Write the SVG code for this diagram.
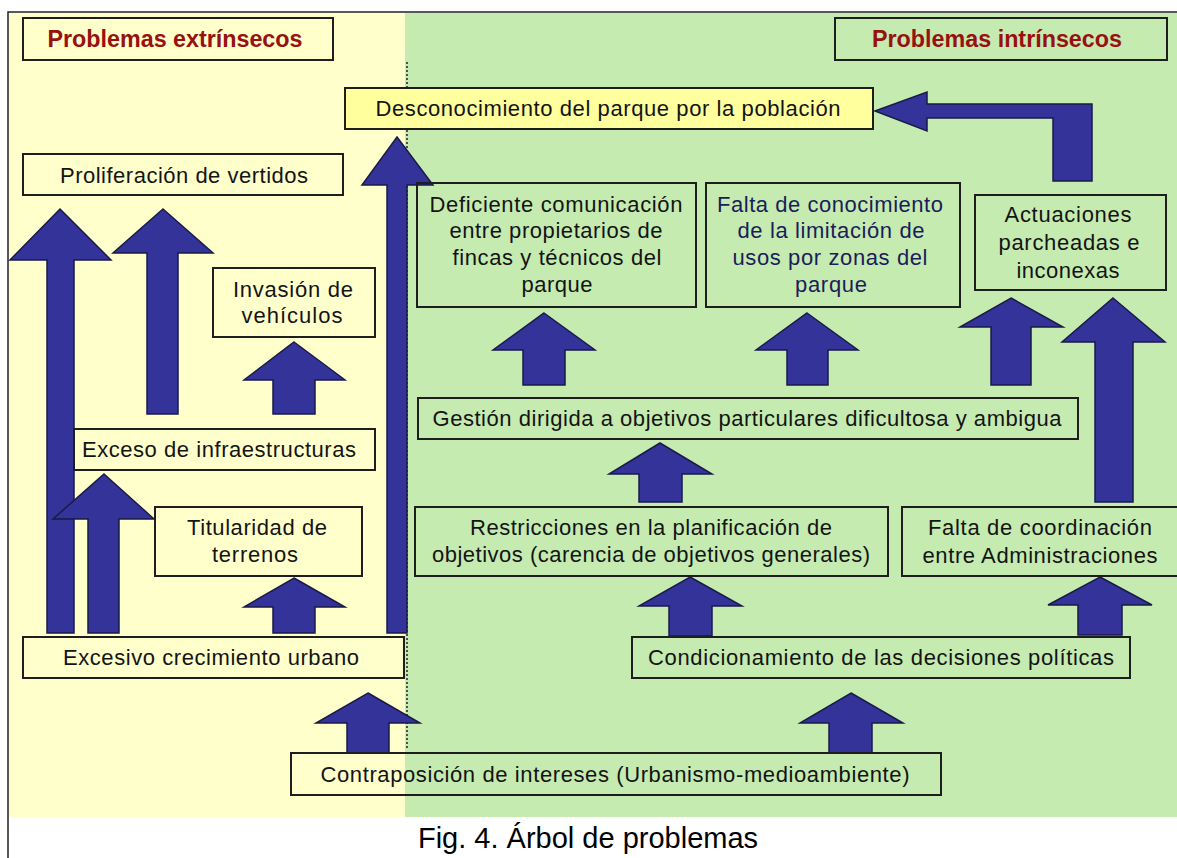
<svg xmlns="http://www.w3.org/2000/svg" width="1177" height="858" viewBox="0 0 1177 858">
<style>
.box{fill:none;stroke:#1e1e1e;stroke-width:2}
.t{font-family:"Liberation Sans",Arial,sans-serif;font-size:22px;fill:#141414;text-anchor:middle}
.tb{fill:#1c1c5a}
.h{font-family:"Liberation Sans",Arial,sans-serif;font-size:23px;font-weight:bold;fill:#981010;text-anchor:middle}
.arr{fill:#333399;stroke:#1a1a4a;stroke-width:1.5;stroke-linejoin:miter}
</style>
<rect x="0" y="0" width="1177" height="858" fill="#ffffff"/>
<rect x="9" y="13" width="397" height="804" fill="#FFFFCC"/>
<rect x="405" y="13" width="772" height="804" fill="#C5EBB1"/>
<path d="M8,858 V12 H1177" fill="none" stroke="#222" stroke-width="1.5"/>
<line x1="407" y1="62" x2="407" y2="748" stroke="#222" stroke-width="1.5" stroke-dasharray="2,2"/>

<g id="connectors">
<polygon class="arr" points="60,209 111,260 74,260 74,633 47,633 47,260 10,260"/>
<polygon class="arr" points="163,209 213,253 178,253 178,414 147,414 147,253 113,253"/>
<polygon class="arr" points="294,342 345,380 315,380 315,414 273,414 273,380 244,380"/>
<polygon class="arr" points="104,474 154,519 119,519 119,633 88,633 88,519 53,519"/>
<polygon class="arr" points="294,578 345,607 315,607 315,633 273,633 273,607 244,607"/>
<polygon class="arr" points="397,137 433,185 407,185 407,633 387,633 387,185 362,185"/>
<polygon class="arr" points="368,693 420,723 389,723 389,753 347,753 347,723 316,723"/>
<polygon class="arr" points="851,693 903,723 872,723 872,753 829,753 829,723 800,723"/>
<polygon class="arr" points="544,313 595,350 565,350 565,385 523,385 523,350 493,350"/>
<polygon class="arr" points="807,313 858,350 828,350 828,385 787,385 787,350 756,350"/>
<polygon class="arr" points="1011,298 1063,327 1031,327 1031,385 991,385 991,327 960,327"/>
<polygon class="arr" points="1113,298 1165,342 1133,342 1133,502 1095,502 1095,342 1062,342"/>
<polygon class="arr" points="1100,577 1152,605 1122,605 1122,635 1078,635 1078,605 1048,605"/>
<polygon class="arr" points="660,443 712,474 682,474 682,502 639,502 639,474 609,474"/>
<polygon class="arr" points="690,577 742,606 712,606 712,636 669,636 669,606 639,606"/>
<path class="arr" d="M875,111 L927,92 L927,104 L1092,104 L1092,181 L1053,181 L1053,118 L927,118 L927,131 Z"/>
</g>

<g id="hdr-ext">
<rect class="box" x="23" y="18" width="310" height="42"/>
<text class="h" x="175" y="47" textLength="255" lengthAdjust="spacingAndGlyphs">Problemas extrínsecos</text>
</g>
<g id="hdr-int">
<rect class="box" x="835" y="18" width="332" height="42"/>
<text class="h" x="997" y="47" textLength="250" lengthAdjust="spacingAndGlyphs">Problemas intrínsecos</text>
</g>
<g id="n-desconocimiento">
<rect x="345" y="88" width="528" height="41" fill="#FFFF9E" stroke="#1e1e1e" stroke-width="2"/>
<text class="t" x="608" y="116" textLength="465" lengthAdjust="spacing">Desconocimiento del parque por la población</text>
</g>
<g id="n-proliferacion">
<rect class="box" x="23" y="154" width="320" height="41"/>
<text class="t" x="184" y="183" textLength="248" lengthAdjust="spacing">Proliferación de vertidos</text>
</g>
<g id="n-deficiente">
<rect class="box" x="417" y="183" width="279" height="124"/>
<text class="t" x="556" y="212" textLength="253" lengthAdjust="spacing">Deficiente comunicación</text>
<text class="t" x="556" y="238" textLength="213" lengthAdjust="spacing">entre propietarios de</text>
<text class="t" x="557" y="265" textLength="209" lengthAdjust="spacing">fincas y técnicos del</text>
<text class="t" x="557" y="292" textLength="71" lengthAdjust="spacing">parque</text>
</g>
<g id="n-falta-conocimiento">
<rect class="box" x="706" y="183" width="254" height="124"/>
<text class="t tb" x="830" y="212" textLength="226" lengthAdjust="spacing">Falta de conocimiento</text>
<text class="t tb" x="831" y="238" textLength="187" lengthAdjust="spacing">de la limitación de</text>
<text class="t tb" x="830" y="265" textLength="195" lengthAdjust="spacing">usos por zonas del</text>
<text class="t tb" x="831" y="292" textLength="72" lengthAdjust="spacing">parque</text>
</g>
<g id="n-actuaciones">
<rect class="box" x="975" y="195" width="191" height="95"/>
<text class="t" x="1068" y="222" textLength="127" lengthAdjust="spacing">Actuaciones</text>
<text class="t" x="1069" y="250" textLength="141" lengthAdjust="spacing">parcheadas e</text>
<text class="t" x="1068" y="278" textLength="103" lengthAdjust="spacing">inconexas</text>
</g>
<g id="n-invasion">
<rect class="box" x="213" y="268" width="162" height="69"/>
<text class="t" x="293" y="297" textLength="120" lengthAdjust="spacing">Invasión de</text>
<text class="t" x="292" y="323" textLength="101" lengthAdjust="spacing">vehículos</text>
</g>
<g id="n-gestion">
<rect class="box" x="418" y="398" width="660" height="41"/>
<text class="t" x="747" y="426" textLength="629" lengthAdjust="spacing">Gestión dirigida a objetivos particulares dificultosa y ambigua</text>
</g>
<g id="n-exceso">
<rect class="box" x="74" y="429" width="301" height="41"/>
<text class="t" x="219" y="457" textLength="274" lengthAdjust="spacing">Exceso de infraestructuras</text>
</g>
<g id="n-titularidad">
<rect class="box" x="155" y="507" width="207" height="69"/>
<text class="t" x="257" y="535" textLength="140" lengthAdjust="spacing">Titularidad de</text>
<text class="t" x="255" y="562" textLength="86" lengthAdjust="spacing">terrenos</text>
</g>
<g id="n-restricciones">
<rect class="box" x="415" y="507" width="473" height="69"/>
<text class="t" x="651" y="535" textLength="362" lengthAdjust="spacing">Restricciones en la planificación de</text>
<text class="t" x="651" y="562" textLength="438" lengthAdjust="spacing">objetivos (carencia de objetivos generales)</text>
</g>
<g id="n-coordinacion">
<rect class="box" x="902" y="507" width="280" height="69"/>
<text class="t" x="1040" y="535" textLength="224" lengthAdjust="spacing">Falta de coordinación</text>
<text class="t" x="1040" y="563" textLength="235" lengthAdjust="spacing">entre Administraciones</text>
</g>
<g id="n-excesivo">
<rect class="box" x="23" y="637" width="381" height="41"/>
<text class="t" x="211" y="665" textLength="296" lengthAdjust="spacing">Excesivo crecimiento urbano</text>
</g>
<g id="n-condicionamiento">
<rect class="box" x="632" y="637" width="498" height="41"/>
<text class="t" x="881" y="665" textLength="466" lengthAdjust="spacing">Condicionamiento de las decisiones políticas</text>
</g>
<g id="n-contraposicion">
<rect class="box" x="291" y="753" width="650" height="42"/>
<text class="t" x="615" y="782" textLength="589" lengthAdjust="spacing">Contraposición de intereses (Urbanismo-medioambiente)</text>
</g>
<text x="588" y="848" font-family="Liberation Sans, Arial, sans-serif" font-size="29" fill="#000" text-anchor="middle">Fig. 4. Árbol de problemas</text>
</svg>
